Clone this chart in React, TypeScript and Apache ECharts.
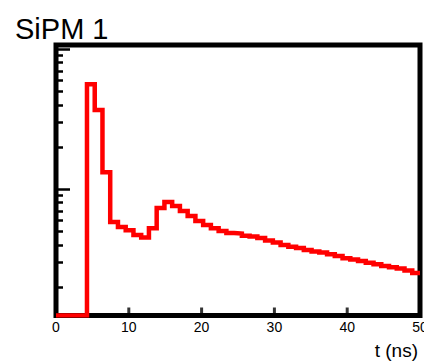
import React, { useEffect, useRef } from "react";
import * as echarts from "echarts";

// Histogram range (ns) and bin contents (arbitrary units, log scale)
const T_MIN = 0;
const T_MAX = 50;
const T_STEP = 10;
const counts = [
  0, 0, 0, 0, 5.62, 3.67, 1.32, 0.581, 0.535, 0.509, 0.469, 0.451, 0.526,
  0.732, 0.807, 0.756, 0.697, 0.641, 0.591, 0.553, 0.526, 0.501, 0.485, 0.481,
  0.465, 0.458, 0.447, 0.429, 0.415, 0.398, 0.388, 0.379, 0.367, 0.358, 0.352,
  0.343, 0.332, 0.321, 0.314, 0.306, 0.298, 0.291, 0.282, 0.277, 0.271, 0.262,
  0.251,
];
const Y_MIN = 0.125;
const Y_MAX = 10.7;
const xInnerTicks = [10, 20, 30, 40];
const yMinorTicks = [0.2, 0.3, 0.4, 0.5, 0.6, 0.7, 0.8, 0.9, 2, 3, 4, 5, 6, 7, 8, 9];
const yMajorTicks = [1, 10];
const TITLE = "SiPM 1";
const X_TITLE = "t (ns)";

export default function App() {
  const ref = useRef<HTMLDivElement>(null);
  useEffect(() => {
    if (!ref.current) return;
    const chart = echarts.init(ref.current, undefined, { renderer: "svg" });
    const nb = counts.length;
    const w = (T_MAX - T_MIN) / nb;
    const pts: [number, number][] = counts.map((c, i) => [T_MIN + i * w, Math.max(c, Y_MIN)]);
    pts.push([T_MAX, Math.max(counts[nb - 1], Y_MIN)]);
    const font = "'Liberation Sans', Arial, Helvetica, sans-serif";
    const yBase = {
      type: "log" as const,
      logBase: 10,
      min: Y_MIN,
      max: Y_MAX,
      position: "left" as const,
      axisLine: { show: false },
      axisLabel: { show: false },
      splitLine: { show: false },
      minorTick: { show: false },
    };
    chart.setOption({
      animation: false,
      backgroundColor: "#ffffff",
      grid: {
        left: 56,
        right: 4,
        top: 45,
        bottom: 47.5,
        outerBoundsMode: "none",
        containLabel: false,
        show: true,
        borderColor: "#000000",
        borderWidth: 5,
        backgroundColor: "transparent",
      },
      xAxis: {
        type: "value",
        min: T_MIN,
        max: T_MAX,
        interval: T_STEP,
        position: "bottom",
        axisLine: { show: false, onZero: false },
        splitLine: { show: false },
        axisTick: { show: false },
        axisLabel: {
          show: true,
          margin: 4,
          fontSize: 14,
          color: "#000",
          fontFamily: font,
          hideOverlap: false,
          showMinLabel: true,
          showMaxLabel: true,
        },
      },
      yAxis: [
        {
          ...yBase,
          axisTick: {
            show: true,
            inside: true,
            length: 7,
            customValues: yMinorTicks,
            lineStyle: { color: "#000", width: 2.5 },
          },
        },
        {
          ...yBase,
          axisTick: {
            show: true,
            inside: true,
            length: 14,
            customValues: yMajorTicks,
            lineStyle: { color: "#000", width: 2.5 },
          },
        },
      ],
      graphic: [
        {
          type: "text",
          left: 15,
          top: 14,
          style: { text: TITLE, fontSize: 29, fontFamily: font, fill: "#000" },
        },
        {
          type: "text",
          right: 6,
          top: 341,
          style: { text: X_TITLE, fontSize: 19, fontFamily: font, fill: "#000" },
        },
      ],
      series: [
        {
          type: "line",
          step: "end",
          data: pts,
          showSymbol: false,
          yAxisIndex: 0,
          lineStyle: { color: "#ff0000", width: 4.5, join: "miter" },
        },
        {
          // x-axis tick marks (inside, pointing up) placed through the axis scales
          type: "scatter",
          data: xInnerTicks.map((t) => [t, Y_MIN]),
          yAxisIndex: 0,
          symbol: "rect",
          symbolSize: [3, 8],
          symbolOffset: [0, -4],
          itemStyle: { color: "#000" },
          silent: true,
          clip: false,
          z: 5,
        },
      ],
    });
    return () => chart.dispose();
  }, []);
  return (
    <div
      ref={ref}
      style={{ position: "fixed", left: 0, top: 0, width: 424, height: 363 }}
    />
  );
}
